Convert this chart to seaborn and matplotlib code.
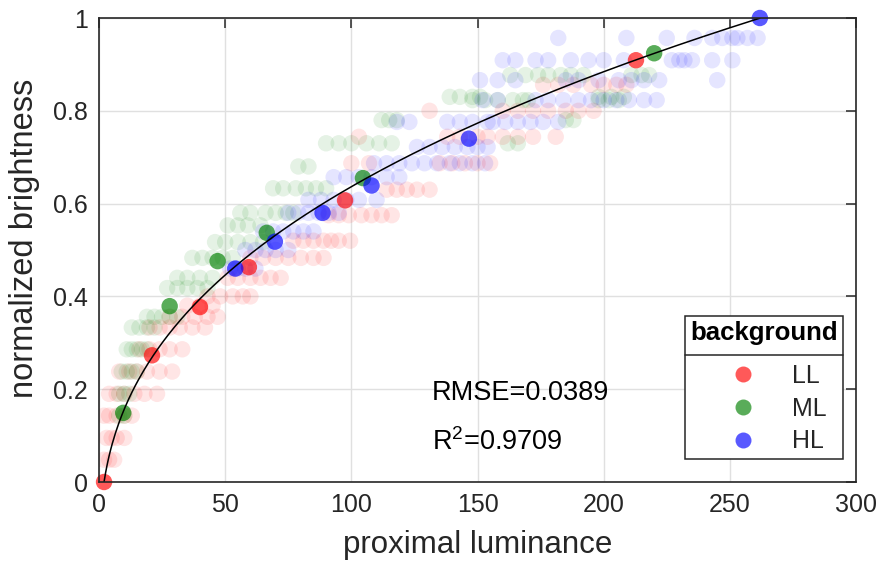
import numpy as np
import pandas as pd
import matplotlib
matplotlib.use("Agg")
import matplotlib.pyplot as plt
from matplotlib.lines import Line2D
from matplotlib.patches import Rectangle
import seaborn as sns

# ---------------- data ----------------
groups = ["LL", "ML", "HL"]
group_colors = {"LL": (1.0, 0.0, 0.0), "ML": (0.0, 0.5, 0.0), "HL": (0.0, 0.0, 1.0)}

# mean points per background
mean_LL_x = [2, 21, 40, 59.4, 97.5, 212.8]
mean_LL_y = [0.0, 0.273, 0.377, 0.463, 0.607, 0.909]
mean_ML_x = [9.6, 28, 47, 66.5, 104.6, 220]
mean_ML_y = [0.149, 0.379, 0.476, 0.537, 0.655, 0.924]
mean_HL_x = [54, 69.7, 88.6, 108, 146.6, 261.9]
mean_HL_y = [0.460, 0.518, 0.580, 0.639, 0.740, 1.0]

# individual responses (faint), grouped by row: y value and list of x values
LL_rows_y = [0.048, 0.095, 0.143, 0.19, 0.238, 0.286, 0.333, 0.356, 0.38, 0.40,
             0.44, 0.483, 0.52, 0.575, 0.63, 0.687, 0.744, 0.80, 0.856]
LL_rows_x = [[2, 4, 6], [3, 5, 7, 10], [2, 4, 7, 10, 13], [4, 7, 10, 14, 18, 23],
             [8, 12, 15, 19, 24, 29], [16, 20, 24, 28, 33], [20, 24, 28, 32, 37, 42],
             [28, 33, 38, 43, 47], [35, 40, 45], [43, 48, 53, 57, 60],
             [51, 55, 60, 64, 68, 72], [60, 65, 70, 75, 80, 85, 89],
             [77, 81, 85, 89, 92, 95, 99.5], [91, 95, 99, 104, 108, 112, 116],
             [114, 118, 122, 126, 131], [100, 107, 135, 140, 145, 150, 155],
             [103, 138, 143, 150, 154, 160, 166, 172, 181],
             [131, 160, 166, 172, 178, 185, 190, 196],
             [176, 182, 188, 195, 200, 205, 209]]

ML_rows_y = [0.143, 0.19, 0.238, 0.286, 0.333, 0.356, 0.418, 0.44, 0.483, 0.517,
             0.553, 0.58, 0.633, 0.68, 0.73, 0.78, 0.823, 0.83, 0.877]
ML_rows_x = [[8, 10], [8, 10, 12], [9, 11, 13, 15], [11, 13, 15, 17, 19],
             [13, 16, 19, 22], [19, 22, 25, 28, 31], [27, 31, 35, 39, 43],
             [31, 35, 40, 45], [37, 41, 45, 49, 53], [46, 50, 55, 60, 65],
             [51, 55, 59, 64], [56, 60, 66, 70, 74, 77], [69, 73, 78, 82, 86, 90],
             [79, 83], [90, 95, 100, 106, 111, 116, 162, 166],
             [112, 115, 118, 185, 188], [148, 153, 158, 164, 168, 170, 198, 202, 206],
             [139, 143, 148, 151, 198, 203, 208],
             [163, 169, 174, 178, 183, 187, 192, 211, 215, 218]]

HL_rows_y = [0.46, 0.50, 0.54, 0.58, 0.608, 0.657, 0.687, 0.722, 0.776, 0.823,
             0.866, 0.909, 0.957]
HL_rows_x = [[52, 55, 58, 62], [58, 62, 66, 70, 75], [65, 69, 73, 77, 81, 85],
             [75, 79, 83, 87, 91, 95], [83, 88, 93, 98, 103, 110],
             [93, 98, 103, 108, 114, 119],
             [109, 114, 119, 124, 129, 134, 139, 143, 148, 153],
             [126, 131, 136, 141, 146, 150, 154],
             [118, 123, 138, 143, 148, 154, 156, 161, 166, 171, 176, 182],
             [152, 158, 173, 178, 184, 190, 195, 200, 205, 210, 216, 221],
             [151, 158, 165, 185, 190, 198, 206, 211, 216, 222, 245],
             [160, 165, 173, 178, 187, 194, 200, 208, 227, 230, 232, 235, 243, 251],
             [182, 209, 225, 236, 243, 247, 251, 253, 257, 261]]

# fitted power-law curve  y = a * x^b + c  on [x_start, x_end]
fit_a, fit_b, fit_c = 0.1429, 0.38, -0.1859
fit_x_start, fit_x_end = 2.0, 261.9

rmse_text = "RMSE=0.0389"
r2_text = r"R$^{\mathregular{2}}$=0.9709"
legend_title = "background"

x_ticks = [0, 50, 100, 150, 200, 250, 300]
y_ticks = [0, 0.2, 0.4, 0.6, 0.8, 1.0]
y_tick_labels = ["0", "0.2", "0.4", "0.6", "0.8", "1"]

# ---------------- build tables ----------------
def rows_to_df(rows_y, rows_x, g):
    xs, ys = [], []
    for yv, xl in zip(rows_y, rows_x):
        xs += list(xl)
        ys += [yv] * len(xl)
    return pd.DataFrame({"x": xs, "y": ys, "bg": g})

faint = pd.concat([rows_to_df(LL_rows_y, LL_rows_x, "LL"),
                   rows_to_df(ML_rows_y, ML_rows_x, "ML"),
                   rows_to_df(HL_rows_y, HL_rows_x, "HL")], ignore_index=True)
means = pd.concat([pd.DataFrame({"x": mean_LL_x, "y": mean_LL_y, "bg": "LL"}),
                   pd.DataFrame({"x": mean_ML_x, "y": mean_ML_y, "bg": "ML"}),
                   pd.DataFrame({"x": mean_HL_x, "y": mean_HL_y, "bg": "HL"})],
                  ignore_index=True)
fx = np.linspace(fit_x_start, fit_x_end, 400)
fit_df = pd.DataFrame({"x": fx, "y": fit_a * fx ** fit_b + fit_c})

# ---------------- style ----------------
sns.set_style("white")
plt.rcParams["font.family"] = ["Liberation Sans", "DejaVu Sans"]
plt.rcParams["mathtext.fontset"] = "custom"
plt.rcParams["mathtext.rm"] = "Liberation Sans"
plt.rcParams["mathtext.it"] = "Liberation Sans:italic"
dark = "#262626"

fig = plt.figure(figsize=(8.91, 5.69), dpi=100)
ax = fig.add_axes([99 / 891, 1 - 482 / 569, 757 / 891, 464 / 569])

sns.scatterplot(data=faint, x="x", y="y", hue="bg", palette=group_colors,
                hue_order=groups, s=140, alpha=0.1, linewidth=0, legend=False,
                ax=ax, zorder=2)
sns.scatterplot(data=means, x="x", y="y", hue="bg", palette=group_colors,
                hue_order=groups, s=140, alpha=0.65, linewidth=0, legend=False,
                ax=ax, zorder=3, clip_on=False)
sns.lineplot(data=fit_df, x="x", y="y", color="black", linewidth=1.1, ax=ax,
             zorder=4, sort=False)

ax.set_xlim(0, 300)
ax.set_ylim(0, 1)
ax.set_xticks(x_ticks)
ax.set_yticks(y_ticks)
ax.set_yticklabels(y_tick_labels)
ax.grid(True, color="#e0e0e0", linewidth=1.0)
ax.set_axisbelow(True)
for sp in ax.spines.values():
    sp.set_color(dark)
    sp.set_linewidth(1.2)
    sp.set_zorder(5)
ax.tick_params(direction="in", top=True, right=True, length=7, width=1.1,
               color=dark, labelcolor=dark, labelsize=18, pad=8)
ax.set_xlabel("proximal luminance", fontsize=22.5, color=dark, labelpad=9)
ax.set_ylabel("normalized brightness", fontsize=23.5, color=dark)
ax.yaxis.set_label_coords(-0.0775, 0.525)

ax.text(132, 0.177, rmse_text, fontsize=19.5, color="black", va="baseline")
ax.text(132, 0.069, r2_text, fontsize=19.5, color="black", va="baseline")

# ---------------- legend: framed box with titled header ----------------
box_x0, box_x1, box_y0, box_y1, sep_y = 0.7741, 0.9828, 0.0496, 0.3578, 0.2737
ax.add_patch(Rectangle((box_x0, box_y0), box_x1 - box_x0, box_y1 - box_y0,
                       transform=ax.transAxes, facecolor="white", edgecolor=dark,
                       linewidth=1.1, zorder=6, clip_on=False))
ax.add_line(Line2D([box_x0, box_x1], [sep_y, sep_y], transform=ax.transAxes,
                   color=dark, linewidth=1.1, zorder=7, clip_on=False))
ax.text((box_x0 + box_x1) / 2, (sep_y + box_y1) / 2 + 0.005, legend_title,
        transform=ax.transAxes, fontsize=18.6, fontweight="bold", color="black",
        ha="center", va="center", zorder=8)

handles = [Line2D([0], [0], marker="o", linestyle="none", markersize=11.5,
                  markerfacecolor=group_colors[g], markeredgewidth=0, alpha=0.65)
           for g in groups]
leg = ax.legend(handles, groups, loc="center left",
                bbox_to_anchor=(0.8177, 0.1584), borderaxespad=0, borderpad=0,
                fontsize=18, frameon=False, handlelength=2.0,
                handletextpad=0.96, labelspacing=0.35)
leg.set_zorder(8)

fig.savefig("out.png", dpi=100)
